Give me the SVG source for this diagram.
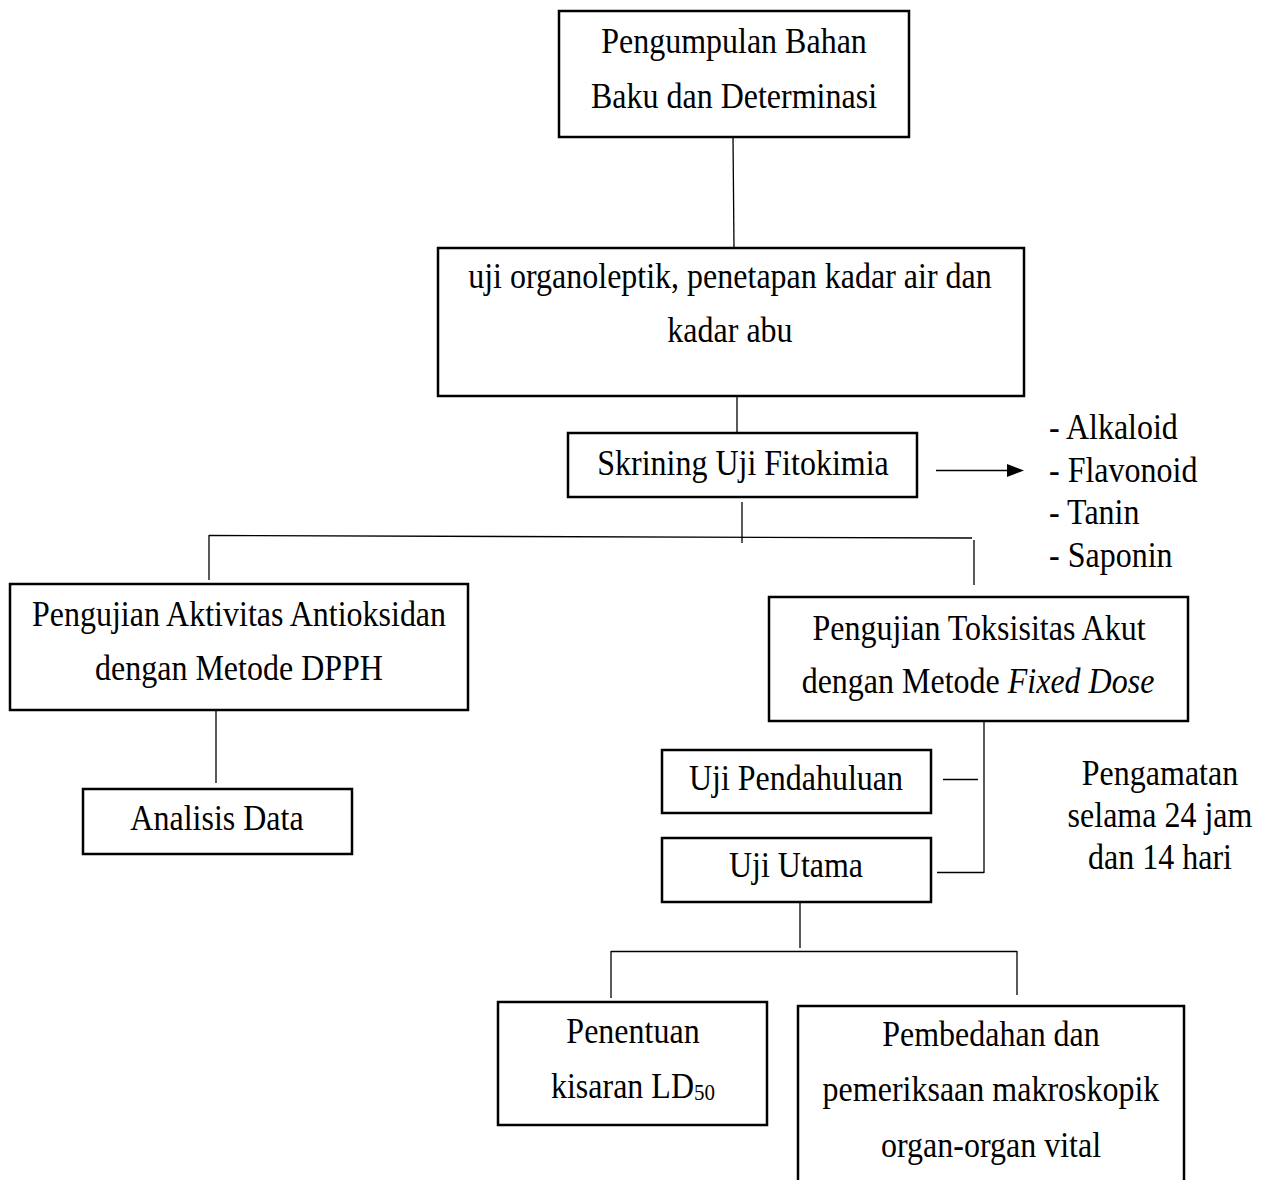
<svg xmlns="http://www.w3.org/2000/svg" width="1262" height="1180" viewBox="0 0 1262 1180">
<style>
.box{fill:#fff;stroke:#000;stroke-width:2.5}
.t{font-family:"Liberation Serif","Times New Roman",serif;font-size:32px;fill:#000;text-anchor:middle}
.l{font-family:"Liberation Serif","Times New Roman",serif;font-size:32px;fill:#000}
.c{stroke:#000;stroke-width:1.3;fill:none}
</style>
<rect width="1262" height="1180" fill="#fff"/>
<g id="connectors">
<line class="c" x1="733" y1="137" x2="734" y2="248"/>
<line class="c" x1="737" y1="396" x2="737" y2="433"/>
<line class="c" x1="936" y1="470.5" x2="1009" y2="470.5" stroke-width="1.8"/>
<polygon points="1007,464 1024,470.5 1007,477" fill="#000"/>
<line class="c" x1="742" y1="502" x2="742" y2="543"/>
<line class="c" x1="209" y1="535.5" x2="972" y2="538"/>
<line class="c" x1="209" y1="535" x2="209" y2="580"/>
<line class="c" x1="974" y1="540" x2="974" y2="585"/>
<line class="c" x1="216" y1="710" x2="216" y2="783"/>
<line class="c" x1="984" y1="721" x2="984" y2="873"/>
<line class="c" x1="943" y1="779.5" x2="978" y2="779.5"/>
<line class="c" x1="937" y1="872.5" x2="984" y2="872.5"/>
<line class="c" x1="800" y1="902" x2="800" y2="948"/>
<line class="c" x1="611" y1="951.5" x2="1017" y2="951.5"/>
<line class="c" x1="611" y1="951" x2="611" y2="998"/>
<line class="c" x1="1017" y1="951" x2="1017" y2="995"/>
</g>
<g id="n1"><rect class="box" x="559" y="11" width="350" height="126"/>
<text class="t" x="734" y="0" transform="translate(0,53) scale(1,1.12)">Pengumpulan Bahan</text>
<text class="t" x="734" y="0" transform="translate(0,108) scale(1,1.12)">Baku dan Determinasi</text></g>
<g id="n2"><rect class="box" x="438" y="248" width="586" height="148"/>
<text class="t" x="730" y="0" transform="translate(0,288) scale(1,1.12)">uji organoleptik, penetapan kadar air dan</text>
<text class="t" x="730" y="0" transform="translate(0,342) scale(1,1.12)">kadar abu</text></g>
<g id="n3"><rect class="box" x="568" y="433" width="349" height="64"/>
<text class="t" x="743" y="0" transform="translate(0,475) scale(1,1.12)">Skrining Uji Fitokimia</text></g>
<g id="list">
<text class="l" x="1049" y="0" transform="translate(0,439) scale(1,1.12)">- Alkaloid</text>
<text class="l" x="1049" y="0" transform="translate(0,482) scale(1,1.12)">- Flavonoid</text>
<text class="l" x="1049" y="0" transform="translate(0,524) scale(1,1.12)">- Tanin</text>
<text class="l" x="1049" y="0" transform="translate(0,567) scale(1,1.12)">- Saponin</text>
</g>
<g id="n4"><rect class="box" x="10" y="584" width="458" height="126"/>
<text class="t" x="239" y="0" transform="translate(0,626) scale(1,1.12)">Pengujian Aktivitas Antioksidan</text>
<text class="t" x="239" y="0" transform="translate(0,680) scale(1,1.12)">dengan Metode DPPH</text></g>
<g id="n5"><rect class="box" x="83" y="789" width="269" height="65"/>
<text class="t" x="217" y="0" transform="translate(0,830) scale(1,1.12)">Analisis Data</text></g>
<g id="n6"><rect class="box" x="769" y="597" width="419" height="124"/>
<text class="t" x="979" y="0" transform="translate(0,640) scale(1,1.12)">Pengujian Toksisitas Akut</text>
<text class="t" x="978" y="0" transform="translate(0,693) scale(1,1.12)">dengan Metode <tspan font-style="italic">Fixed Dose</tspan></text></g>
<g id="n7"><rect class="box" x="662" y="750" width="269" height="63"/>
<text class="t" x="796" y="0" transform="translate(0,790) scale(1,1.12)">Uji Pendahuluan</text></g>
<g id="n8"><rect class="box" x="662" y="838" width="269" height="64"/>
<text class="t" x="796" y="0" transform="translate(0,877) scale(1,1.12)">Uji Utama</text></g>
<g id="obs">
<text class="t" x="1160" y="0" transform="translate(0,785) scale(1,1.12)">Pengamatan</text>
<text class="t" x="1160" y="0" transform="translate(0,827) scale(1,1.12)">selama 24 jam</text>
<text class="t" x="1160" y="0" transform="translate(0,869) scale(1,1.12)">dan 14 hari</text>
</g>
<g id="n9"><rect class="box" x="498" y="1002" width="269" height="123"/>
<text class="t" x="633" y="0" transform="translate(0,1043) scale(1,1.12)">Penentuan</text>
<text class="t" x="633" y="0" transform="translate(0,1098) scale(1,1.12)">kisaran LD<tspan font-size="21" dy="2">50</tspan></text></g>
<g id="n10"><rect class="box" x="798" y="1006" width="386" height="190"/>
<text class="t" x="991" y="0" transform="translate(0,1046) scale(1,1.12)">Pembedahan dan</text>
<text class="t" x="991" y="0" transform="translate(0,1101) scale(1,1.12)">pemeriksaan makroskopik</text>
<text class="t" x="991" y="0" transform="translate(0,1157) scale(1,1.12)">organ-organ vital</text></g>
</svg>
